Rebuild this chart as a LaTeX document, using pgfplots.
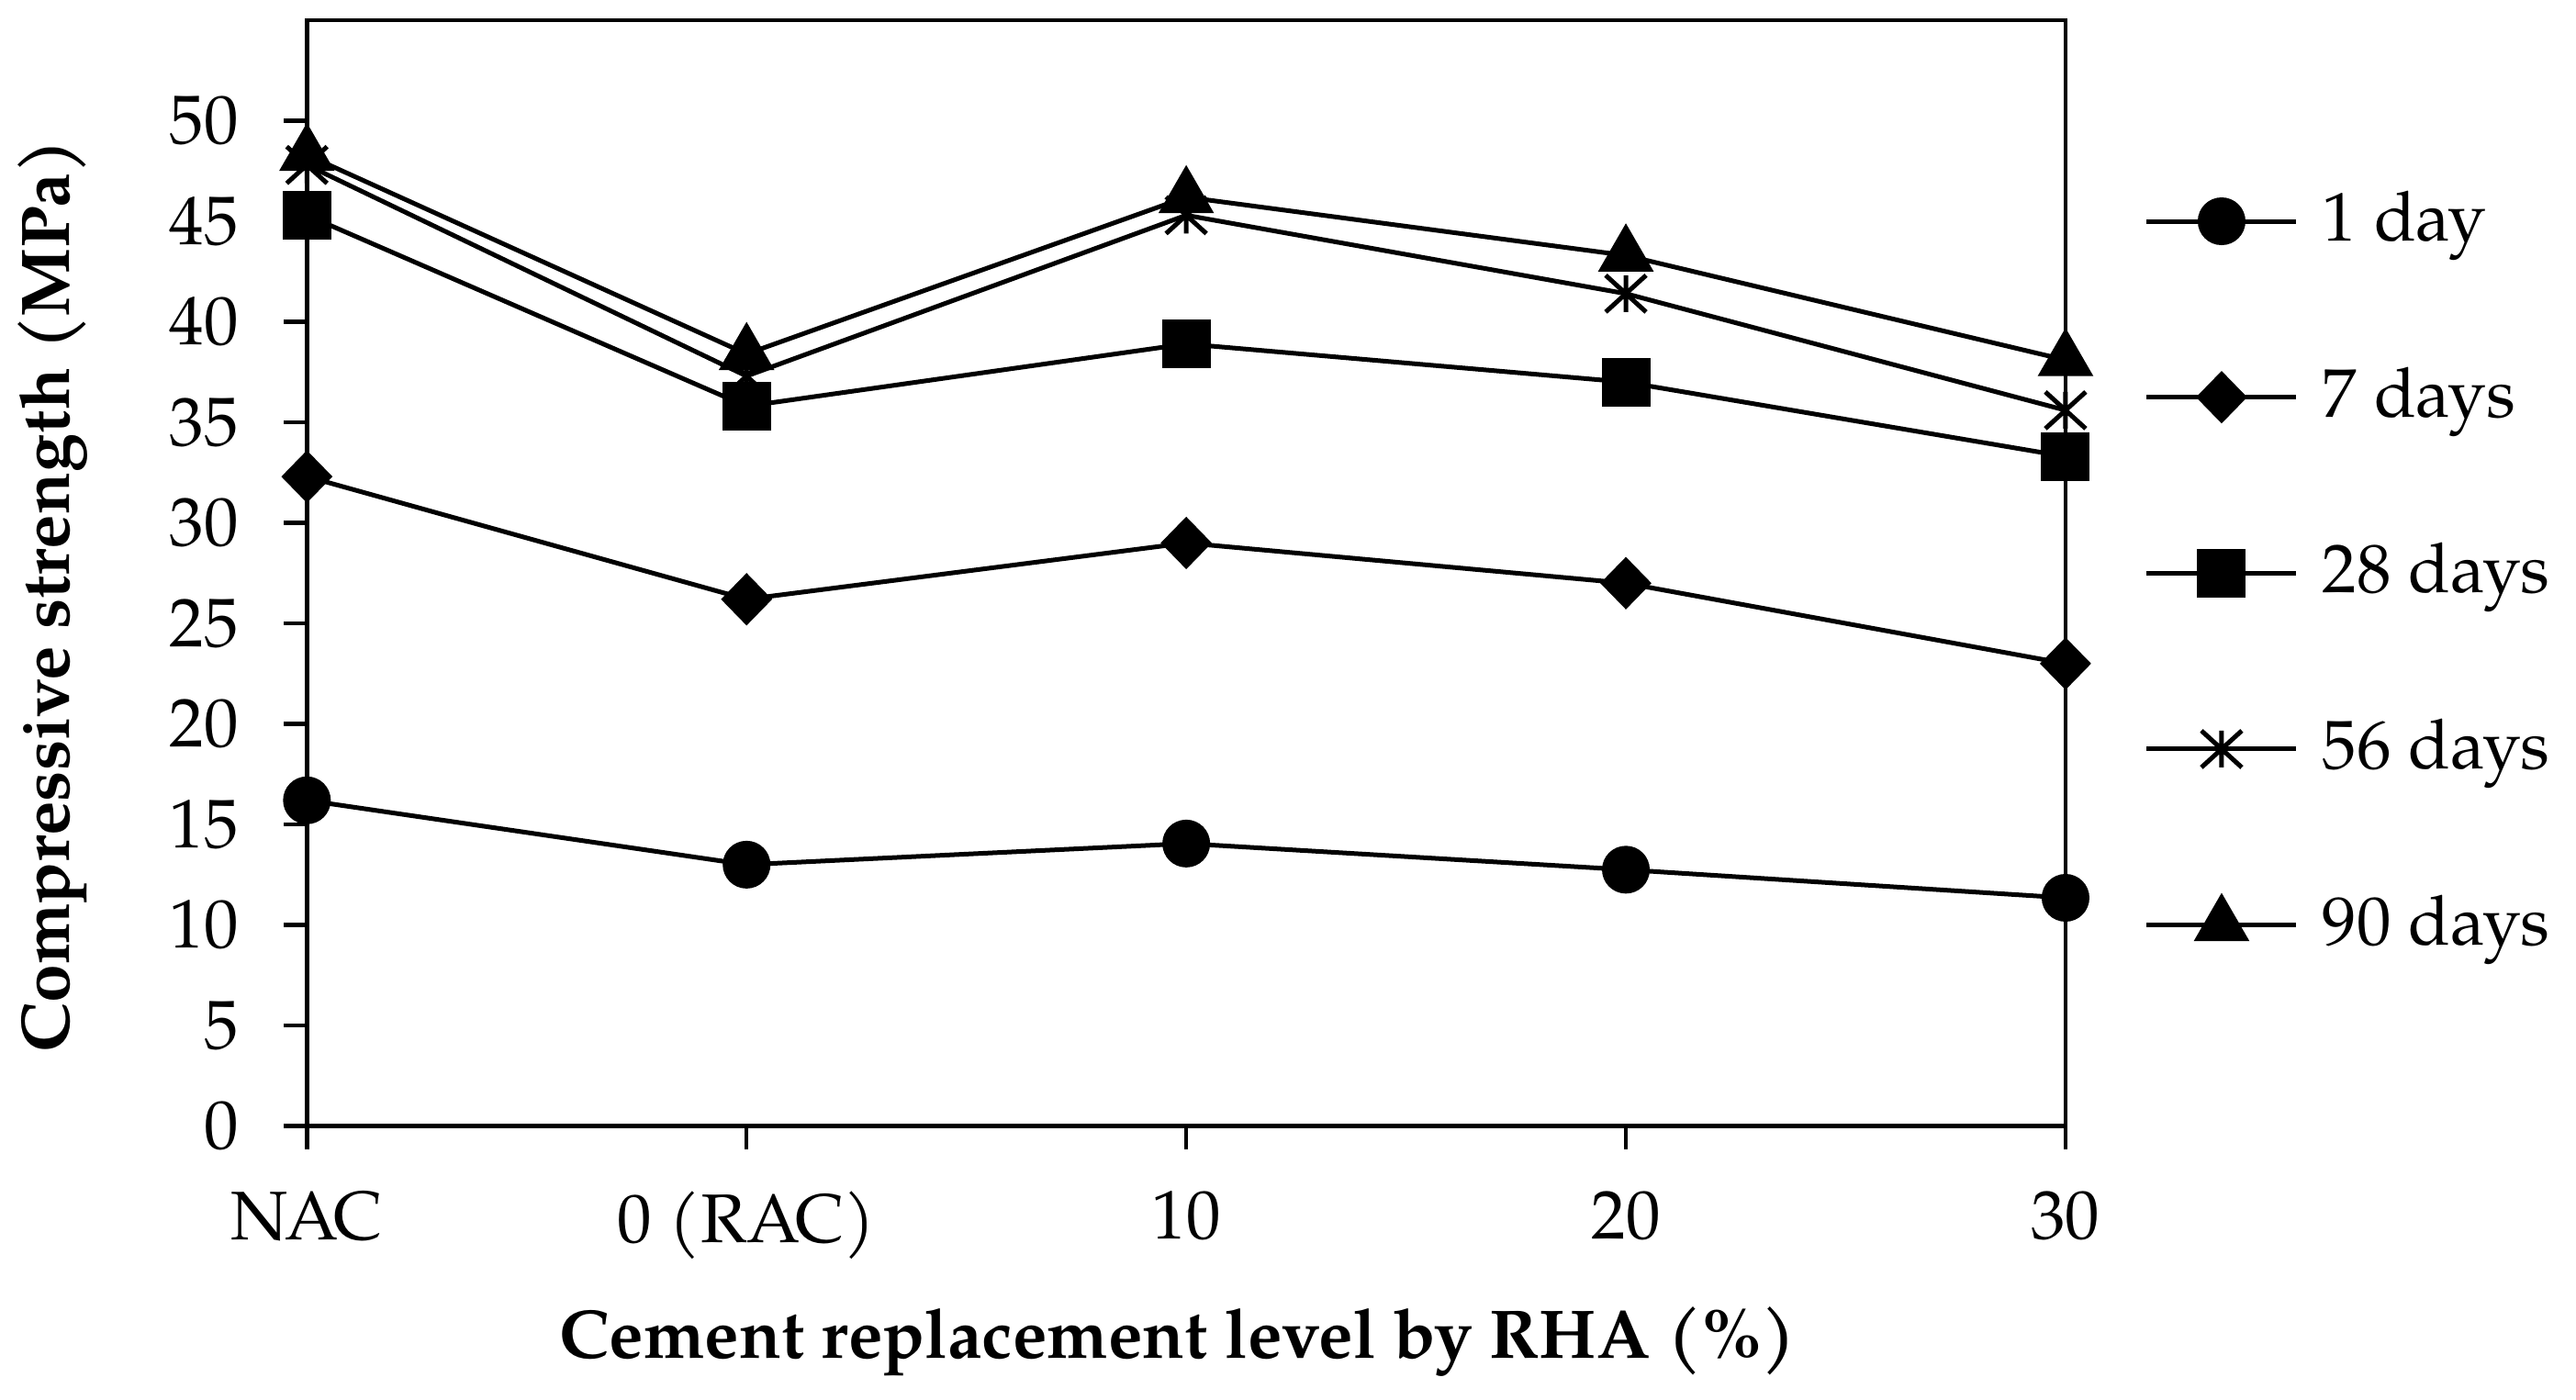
\documentclass[border=0pt]{standalone}
\usepackage{fontspec}
\setmainfont{TeX Gyre Pagella}
\usepackage{pgfplots}
\pgfplotsset{compat=1.18}
\pgfdeclareplotmark{xbar}{%
  \pgfpathmoveto{\pgfqpoint{-1.1\pgfplotmarksize}{-\pgfplotmarksize}}%
  \pgfpathlineto{\pgfqpoint{1.1\pgfplotmarksize}{\pgfplotmarksize}}%
  \pgfpathmoveto{\pgfqpoint{-1.1\pgfplotmarksize}{\pgfplotmarksize}}%
  \pgfpathlineto{\pgfqpoint{1.1\pgfplotmarksize}{-\pgfplotmarksize}}%
  \pgfpathmoveto{\pgfqpoint{0pt}{-\pgfplotmarksize}}%
  \pgfpathlineto{\pgfqpoint{0pt}{\pgfplotmarksize}}%
  \pgfusepathqstroke}
\begin{document}
\fontsize{15bp}{18bp}\selectfont
\begin{tikzpicture}
\begin{axis}[
  name=ax,
  scale only axis,
  width=383.1bp, height=240.9bp,
  xmin=0, xmax=4, ymin=0, ymax=55,
  xtick={0,1,2,3,4},
  xticklabels={NAC,0 (RAC),10,20,30},
  ytick={0,5,...,50},
  tick align=outside,
  tick pos=left,
  major tick length=5bp,
  axis line style={line width=0.9bp},
  every tick/.style={line width=0.9bp, black},
  /pgf/number format/assume math mode=true,
  ticklabel style={font=\fontsize{15bp}{18bp}\selectfont},
  yticklabel style={xshift=-4.7bp},
  xticklabel style={yshift=-4bp},
  clip=false,
  xlabel={\textbf{Cement replacement level by RHA (\%)}},
  ylabel={\textbf{Compressive strength (MPa)}},
  every axis x label/.style={at={([xshift=-1.8bp,yshift=-50.5bp]axis description cs:0.5,0)}, anchor=base, font=\fontsize{15bp}{18bp}\selectfont},
  every axis y label/.style={at={([xshift=-55.3bp,yshift=-5bp]axis description cs:0,0.5)}, rotate=90, anchor=center, font=\fontsize{15bp}{18bp}\selectfont},
  legend style={at={(1,0.5)}, anchor=west, xshift=17bp, draw=none, fill=none,
    font=\fontsize{15bp}{18bp}\selectfont, row sep=21.2bp, inner sep=0pt,
    /tikz/every odd column/.append style={column sep=3.2bp}},
  legend cell align=left,
  legend image code/.code={\draw[mark repeat=2,mark phase=2] plot coordinates {(0bp,0bp)(16.3bp,0bp)(32.6bp,0bp)};},
]
\addplot[black, line width=1bp, mark=*, mark size=4.7bp, mark options={solid, fill=black}] coordinates {(0,16.2) (1,13.0) (2,14.05) (3,12.75) (4,11.35)};
\addlegendentry{1 day}
\addplot[black, line width=1bp, mark=diamond*, mark size=5bp, mark options={solid, fill=black, xscale=1.3}] coordinates {(0,32.3) (1,26.2) (2,29.0) (3,27.0) (4,23.0)};
\addlegendentry{7 days}
\addplot[black, line width=1bp, mark=square*, mark size=4.8bp, mark options={solid, fill=black}] coordinates {(0,45.3) (1,35.8) (2,38.9) (3,37.0) (4,33.3)};
\addlegendentry{28 days}
\addplot[black, line width=1bp, mark=xbar, mark size=4bp, mark options={solid, line width=1bp}] coordinates {(0,47.8) (1,37.3) (2,45.3) (3,41.4) (4,35.6)};
\addlegendentry{56 days}
\addplot[black, line width=1bp, mark=triangle*, mark size=6bp, mark options={solid, fill=black}] coordinates {(0,48.3) (1,38.4) (2,46.2) (3,43.3) (4,38.1)};
\addlegendentry{90 days}
\end{axis}
\pgfresetboundingbox
\path ([shift={(-66.86bp,-59.5bp)}]ax.south west) rectangle ([shift={(111.2bp,4.4bp)}]ax.north east);
\end{tikzpicture}
\end{document}
